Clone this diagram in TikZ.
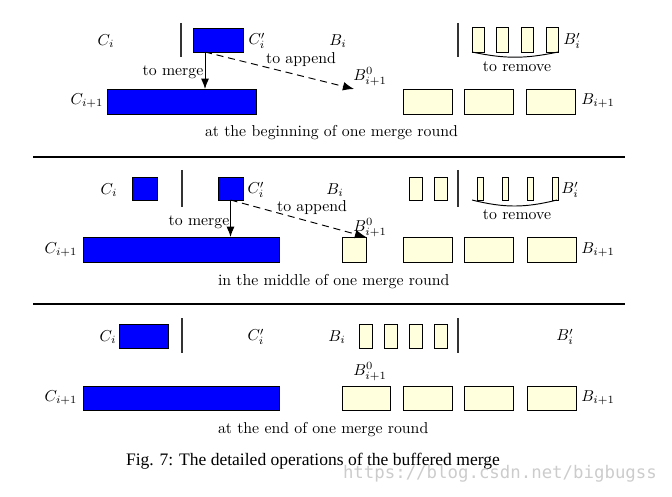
\documentclass[tikz,border=0pt]{standalone}
\usepackage{fontspec}
\newfontfamily\capfont{Liberation Serif}
\newfontfamily\wmfont{DejaVu Sans Mono}
\usetikzlibrary{arrows.meta,calc}
\definecolor{cream}{RGB}{255,255,222}
\newcommand\pxu{0.633pt}
\tikzset{
  every node/.style={inner sep=0pt, outer sep=0pt},
  sz/.style 2 args={minimum width=#1*\pxu, minimum height=#2*\pxu},
  cbox/.style={draw, fill=blue, line width=0.6pt, anchor=north west},
  bbox/.style={draw, fill=cream, line width=0.6pt, anchor=north west},
  bar/.style={line width=0.9pt, black!80},
  sepline/.style={line width=0.8pt},
  mrg/.style={line width=0.6pt, -{Latex[length=6.5pt,width=5pt]}},
  app/.style={line width=0.6pt, dash pattern=on 4.5pt off 3pt, -{Latex[length=7pt,width=5.5pt]}},
  rem/.style={line width=0.6pt},
  capt/.style={anchor=west},
}
\begin{document}
\begin{tikzpicture}[x=0.633pt,y=-0.633pt]
\useasboundingbox (0,0) rectangle (672,497);

% ---------------- panel 1 ----------------
\node[cbox, sz={50}{24}] (cp1) at (193,28) {};
\node[cbox, sz={149}{25}] (cn1) at (107,89) {};
\draw[bar] (181,23) -- (181,57);
\draw[bar] (458,23) -- (458,57);
\node[bbox, sz={12}{25}] (bp1a) at (472,27) {};
\node[bbox, sz={12}{25}] (bp1b) at (496,27) {};
\node[bbox, sz={12}{25}] (bp1c) at (521,27) {};
\node[bbox, sz={12}{25}] (bp1d) at (546,27) {};
\node[bbox, sz={49}{25}] (bn1a) at (403,89) {};
\node[bbox, sz={49}{25}] (bn1b) at (464,89) {};
\node[bbox, sz={49}{25}] (bn1c) at (526,89) {};

\node (lci1) at (106,41) {$C_i$};
\node (lcp1) at (257,41) {$C_i'$};
\node (lbi1) at (338,41) {$B_i$};
\node (lbp1) at (572,41) {$B_i'$};
\node (lcn1) at (87,101) {$C_{i+1}$};
\node (lbn1) at (598,101) {$B_{i+1}$};
\node (lb01) at (370,77) {$B^0_{i+1}$};
\node (tm1) at (173,72) {to merge};
\node (ta1) at (301,60) {to append};
\node (tr1) at (517,67) {to remove};
\node[capt] (cap1) at (205,133) {at the beginning of one merge round};

\coordinate (s1) at ($(cp1.south west)!0.24!(cp1.south east)$);
\coordinate (e1) at (354,89);
\draw[mrg] (s1) -- (s1 |- cn1.north);
\draw[app] (s1) -- (e1);
\draw[rem] (bp1a.south west) to[bend right=12] (bp1d.south east);

\draw[sepline] (33,157) -- (625,157);

% ---------------- panel 2 ----------------
\node[cbox, sz={25}{23}] (ci2) at (132,177) {};
\node[cbox, sz={25}{23}] (cp2) at (218,177) {};
\node[cbox, sz={196}{25}] (cn2) at (83,237) {};
\node[bbox, sz={24}{25}] (b02) at (342,237) {};
\draw[bar] (182,170) -- (182,207);
\draw[bar] (458,170) -- (458,207);
\node[bbox, sz={13}{23}] (bi2a) at (409,177) {};
\node[bbox, sz={13}{23}] (bi2b) at (434,177) {};
\node[bbox, sz={6}{23}] (bp2a) at (477,177) {};
\node[bbox, sz={6}{23}] (bp2b) at (502,177) {};
\node[bbox, sz={6}{23}] (bp2c) at (527,177) {};
\node[bbox, sz={6}{23}] (bp2d) at (552,177) {};
\node[bbox, sz={49}{25}] (bn2a) at (403,237) {};
\node[bbox, sz={49}{25}] (bn2b) at (464,237) {};
\node[bbox, sz={49}{25}] (bn2c) at (527,237) {};

\node (lci2) at (109,190) {$C_i$};
\node (lcp2) at (256,190) {$C_i'$};
\node (lbi2) at (335,190) {$B_i$};
\node (lbp2) at (570,190) {$B_i'$};
\node (lcn2) at (61,250) {$C_{i+1}$};
\node (lbn2) at (598,250) {$B_{i+1}$};
\node (lb02) at (370,228) {$B^0_{i+1}$};
\node (tm2) at (199,222) {to merge};
\node (ta2) at (312,208) {to append};
\node (tr2) at (517,215) {to remove};
\node[capt] (cap2) at (218,282) {in the middle of one merge round};

\draw[mrg] (cp2.south) -- (cp2.south |- cn2.north);
\draw[app] (cp2.south) -- (b02.north east);
\coordinate (r2a) at (472,200);
\coordinate (r2b) at (557,200);
\draw[rem] (r2a) to[bend right=14] (r2b);

\draw[sepline] (33,304) -- (625,304);

% ---------------- panel 3 ----------------
\node[cbox, sz={49}{24}] (ci3) at (119,324) {};
\node[cbox, sz={196}{24}] (cn3) at (83,386) {};
\draw[bar] (182,318) -- (182,353);
\draw[bar] (458,318) -- (458,353);
\node[bbox, sz={13}{24}] (bi3a) at (359,324) {};
\node[bbox, sz={13}{24}] (bi3b) at (384,324) {};
\node[bbox, sz={13}{24}] (bi3c) at (409,324) {};
\node[bbox, sz={13}{24}] (bi3d) at (434,324) {};
\node[bbox, sz={48}{24}] (bn3a) at (342,386) {};
\node[bbox, sz={49}{24}] (bn3b) at (403,386) {};
\node[bbox, sz={49}{24}] (bn3c) at (464,386) {};
\node[bbox, sz={49}{24}] (bn3d) at (527,386) {};

\node (lci3) at (108,337) {$C_i$};
\node (lcp3) at (256,337) {$C_i'$};
\node (lbi3) at (337,337) {$B_i$};
\node (lbp3) at (565,337) {$B_i'$};
\node (lb03) at (370,372) {$B^0_{i+1}$};
\node (lcn3) at (61,398) {$C_{i+1}$};
\node (lbn3) at (598,398) {$B_{i+1}$};
\node[capt] (cap3) at (218,430) {at the end of one merge round};

% ---------------- caption ----------------
\node[capt, font=\capfont\fontsize{11.1}{13}\selectfont] (fig) at (126,461) {Fig. 7: The detailed operations of the buffered merge};
\node[capt, font=\wmfont\fontsize{11}{13}\selectfont, text=gray!40] (wm) at (343,474) {https://blog.csdn.net/bigbugss};
\end{tikzpicture}
\end{document}
